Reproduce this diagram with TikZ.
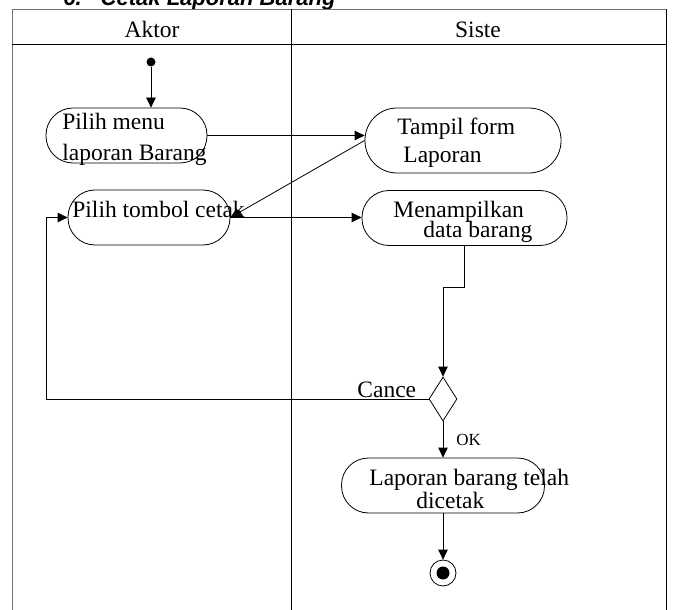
\documentclass[tikz,border=0pt]{standalone}
\usepackage{fontspec}
\setmainfont{Liberation Serif}
\newfontfamily\titlefont{Liberation Sans}
\usetikzlibrary{arrows.meta, shapes, positioning, calc}

\begin{document}
\begin{tikzpicture}[x=1pt,y=-1pt,line width=0.8pt,
  font=\fontsize{23.5}{27}\selectfont,
  actbox/.style={draw, rectangle, rounded corners=27pt, inner sep=0pt, minimum height=55pt},
  txt/.style={anchor=base west, inner sep=0pt},
  flow/.style={-{Triangle[length=10pt,width=9.5pt]}}]
\useasboundingbox (0,0) rectangle (673,610);
\draw node[txt, font=\titlefont\bfseries\itshape\fontsize{22}{26}\selectfont] (title) at (63,5.5) {6.\hspace{19pt}Cetak Laporan Barang};
\draw[black!55] (12,610) -- (12,9.5) -- (666,9.5);
\draw (666,9.5) -- (666,610);
\draw (12,44) -- (666,44);
\draw (291,9.5) -- (291,610);
\draw node[anchor=base] (aktor) at (152,37.5) {Aktor};
\draw node[anchor=base] (siste) at (478,37.5) {Siste};

\node[circle, fill, minimum size=9pt, inner sep=0pt] (start) at (151,62) {};
\node[actbox, minimum width=161pt] (pm) at (126.5,135.5) {};
\node[actbox, minimum width=162pt] (ptc) at (149,217.5) {};
\node[actbox, minimum width=196pt, minimum height=65pt, rounded corners=32pt] (tfl) at (463,140.5) {};
\node[actbox, minimum width=205pt] (mdb) at (464.5,218) {};
\node[draw, diamond, minimum width=28pt, minimum height=44pt, inner sep=0pt] (dec) at (443,399) {};
\node[actbox, minimum width=203pt] (lbd) at (443,485.5) {};
\node[draw, circle, minimum size=26pt, inner sep=0pt] (stop) at (443,573) {};
\fill (stop.center) circle (6.5);

\draw node[txt] (pm1) at (62,130) {Pilih menu};
\draw node[txt] (pm2) at (62,160.5) {laporan Barang};
\draw node[txt] (ptc1) at (72,217) {Pilih tombol cetak};
\draw node[txt] (tfl1) at (397,135) {Tampil form};
\draw node[txt] (tfl2) at (403,162) {Laporan};
\draw node[txt] (mdb1) at (393,217) {Menampilkan};
\draw node[txt] (mdb2) at (423,237) {data barang};
\draw node[txt] (lbd1) at (369,485) {Laporan barang telah};
\draw node[txt] (lbd2) at (416,508) {dicetak};
\draw node[txt] (cancel) at (357,397) {Cance};
\draw node[txt, font=\fontsize{17}{20}\selectfont] (ok) at (456,445) {OK};

\draw[flow] (start) -- (start |- pm.north);
\draw[flow] (pm.east) -- (pm.east -| tfl.west);
\draw[flow] (tfl.west) -- (ptc.east);
\draw[flow] (ptc.east) -- (ptc.east -| mdb.west);
\draw[flow] (mdb.south) -- ++(0,41) -| (dec.north);
\draw[flow] (dec.west) -- ++(-382,0) |- (ptc.west);
\draw[flow] (dec.south) -- (lbd.north);
\draw[flow] (lbd.south) -- (stop.north);
\end{tikzpicture}
\end{document}
